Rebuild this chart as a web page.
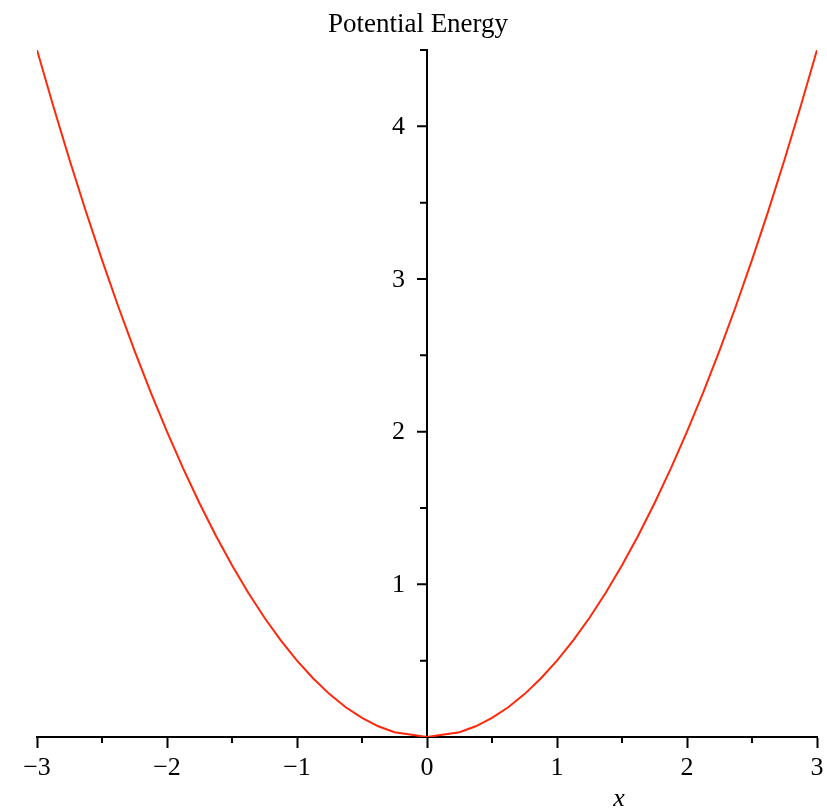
<!DOCTYPE html>
<html>
<head>
<meta charset="utf-8">
<title>Potential Energy</title>
<script src="https://cdn.jsdelivr.net/npm/chart.js@4/dist/chart.umd.min.js"></script>
<style>
    html, body { margin: 0; padding: 0; background: #fff; }
    #wrap { width: 827px; height: 810px; position: relative; }
</style>
</head>
<body>
<div id="wrap"><canvas id="energyChart"></canvas></div>
<script>
    /**************************************************  data *****************************************************/
    // sample points along the curve (x positions and potential energy values)
    var xValues = [-3, -2.875, -2.75, -2.625, -2.5, -2.375, -2.25, -2.125, -2, -1.875, -1.75, -1.625,
        -1.5, -1.375, -1.25, -1.125, -1, -0.875, -0.75, -0.625, -0.5, -0.375, -0.25, 0,
        0.25, 0.375, 0.5, 0.625, 0.75, 0.875, 1, 1.125, 1.25, 1.375, 1.5, 1.625,
        1.75, 1.875, 2, 2.125, 2.25, 2.375, 2.5, 2.625, 2.75, 2.875, 3];
    var energyValues = [4.5, 4.133, 3.781, 3.445, 3.125, 2.82, 2.531, 2.258, 2.0, 1.758, 1.531, 1.32,
        1.125, 0.945, 0.781, 0.633, 0.5, 0.383, 0.281, 0.195, 0.125, 0.07, 0.031, 0,
        0.031, 0.07, 0.125, 0.195, 0.281, 0.383, 0.5, 0.633, 0.781, 0.945, 1.125, 1.32,
        1.531, 1.758, 2.0, 2.258, 2.531, 2.82, 3.125, 3.445, 3.781, 4.133, 4.5];
    // labelled ticks on each axis
    var xTickLabels = [-3, -2, -1, 0, 1, 2, 3];
    var yTickLabels = [1, 2, 3, 4];

    var chartTitle = 'Potential Energy';
    var xAxisLabel = 'x';

    /**************************************************  config *****************************************************/
    var Charts = window.Chart;
    var serif = '"Liberation Serif", "Times New Roman", serif';
    Charts.defaults.font.family = serif;
    Charts.defaults.color = '#000';

    function fmt(v) {
        // typographic minus like the rest of the labels
        return v < 0 ? '\u2212' + Math.abs(v) : String(v);
    }
    function isMajor(v) {
        return Math.abs(v - Math.round(v)) < 1e-9;
    }

    // minor x ticks, the y axis ticks + labels (left of the centred axis), title and x label
    var decorations = {
        id: 'decorations',
        afterDraw: function (chart) {
            var ctx = chart.ctx;
            var xs = chart.scales.x, ys = chart.scales.y;
            var x0 = xs.getPixelForValue(0), y0 = ys.getPixelForValue(0);
            ctx.save();
            ctx.strokeStyle = '#000';
            ctx.lineWidth = 2;
            ctx.beginPath();
            xs.ticks.forEach(function (t) {
                if (isMajor(t.value)) return;
                var px = xs.getPixelForValue(t.value);
                ctx.moveTo(px, y0);
                ctx.lineTo(px, y0 + 6);
            });
            ys.ticks.forEach(function (t) {
                if (t.value === 0) return;
                var py = ys.getPixelForValue(t.value);
                ctx.moveTo(x0, py);
                ctx.lineTo(x0 - (isMajor(t.value) ? 10 : 7), py);
            });
            ctx.stroke();

            ctx.fillStyle = '#000';
            ctx.font = '26px ' + serif;
            ctx.textAlign = 'right';
            ctx.textBaseline = 'middle';
            yTickLabels.forEach(function (v) {
                ctx.fillText(fmt(v), x0 - 22, ys.getPixelForValue(v) + 1);
            });

            ctx.textBaseline = 'alphabetic';
            ctx.textAlign = 'center';
            ctx.font = '27px ' + serif;
            ctx.fillText(chartTitle, 418, 32);
            ctx.font = 'italic 26px ' + serif;
            ctx.fillText(xAxisLabel, 619, 806);
            ctx.restore();
        }
    };

    var points = xValues.map(function (x, i) {
        return {x: x, y: energyValues[i]};
    });

    new Charts(document.getElementById('energyChart'), {
        type: 'line',
        data: {
            datasets: [{
                label: chartTitle,
                data: points,
                borderColor: 'rgb(255,40,10)',
                borderWidth: 2,
                pointRadius: 0,
                tension: 0,
                fill: false
            }]
        },
        options: {
            responsive: true,
            maintainAspectRatio: false,
            animation: false,
            layout: {padding: {left: 37, right: 10, top: 50, bottom: 73}},
            plugins: {
                legend: {display: false},
                tooltip: {enabled: false},
                title: {display: false}
            },
            scales: {
                x: {
                    type: 'linear',
                    min: -3,
                    max: 3,
                    position: {y: 0},
                    // end labels may hang over the edges, don't let them shrink the plot
                    afterFit: function (scale) {
                        scale.paddingLeft = 0;
                        scale.paddingRight = 0;
                    },
                    border: {display: true, color: '#000', width: 2},
                    grid: {
                        drawOnChartArea: false,
                        drawTicks: true,
                        tickLength: 10,
                        tickWidth: 2,
                        tickColor: function (c) {
                            return c.tick && isMajor(c.tick.value) ? '#000' : 'rgba(0,0,0,0)';
                        }
                    },
                    ticks: {
                        stepSize: 0.5,
                        autoSkip: false,
                        maxRotation: 0,
                        padding: 6,
                        font: {size: 26},
                        callback: function (v) {
                            return xTickLabels.indexOf(v) >= 0 ? fmt(v) : '';
                        }
                    }
                },
                y: {
                    type: 'linear',
                    min: 0,
                    max: 4.5,
                    position: {x: 0},
                    border: {display: true, color: '#000', width: 2},
                    grid: {drawOnChartArea: false, drawTicks: false},
                    ticks: {stepSize: 0.5, display: false}
                }
            }
        },
        plugins: [decorations]
    });
</script>
</body>
</html>
